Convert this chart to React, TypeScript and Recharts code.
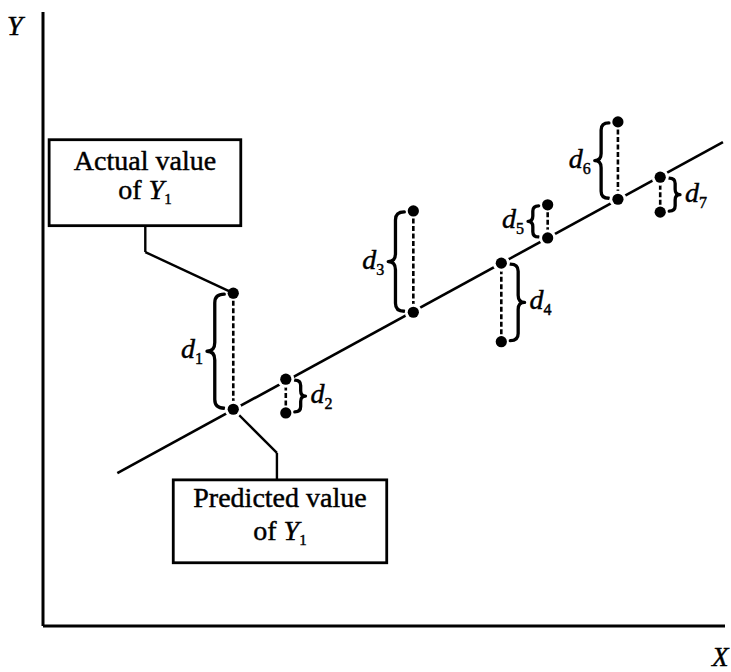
import React from 'react';
import {
  ComposedChart,
  XAxis,
  YAxis,
  Scatter,
  ReferenceLine,
  ReferenceArea,
  ReferenceDot,
} from 'recharts';

// ---- data (arbitrary units, domain 0..100 on both axes) ----
const obsX = [27.9, 35.6, 54.3, 67.2, 74.0, 84.3, 90.5];
const actualY = [54.2, 34.7, 67.6, 46.3, 68.6, 82.1, 67.4];
const predictedY = [35.3, 40.2, 51.1, 59.1, 63.2, 69.5, 73.1];
const residualIndex = ['1', '2', '3', '4', '5', '6', '7'];
const braceSide = ['left', 'right', 'left', 'right', 'left', 'left', 'right'];

const fitLineX = [10.9, 99.7];
const fitLineY = [24.9, 78.8];

const actualBoxX = [0.9, 29.0];
const actualBoxY = [65.2, 79.2];
const predictedBoxX = [19.1, 50.4];
const predictedBoxY = [10.3, 23.8];

const actualConnX = [15.0, 15.0, 27.9];
const actualConnY = [65.2, 60.9, 54.2];
const predictedConnX = [27.9, 34.3, 34.3];
const predictedConnY = [35.3, 28.2, 23.8];

const axisNameX = 'X';
const axisNameY = 'Y';
const actualBoxText = 'Actual value';
const predictedBoxText = 'Predicted value';

const SERIF = '"Liberation Serif", "Times New Roman", Times, serif';

const actualPoints = obsX.map((x, i) => ({ x, y: actualY[i] }));
const predictedPoints = obsX.map((x, i) => ({ x, y: predictedY[i] }));
const fitPoints = fitLineX.map((x, i) => ({ x, y: fitLineY[i] }));

const NoDot = () => <g />;
const PlainDot = (p: any) => <circle cx={p.cx} cy={p.cy} r={5.6} fill="#000" />;
const HaloDot = (p: any) => (
  <g>
    <circle cx={p.cx} cy={p.cy} r={8.5} fill="#fff" />
    <circle cx={p.cx} cy={p.cy} r={5.6} fill="#000" />
  </g>
);

const textInk = { stroke: '#000', strokeWidth: 0.45 };

const makeBrace = (side: string, idx: string) => (p: any) => {
  const { x, y, height } = p;
  const h = Math.abs(height);
  const top = Math.min(y, y + height) + 1;
  const bot = top + h - 2;
  const ym = (top + bot) / 2;
  const w = 8 + h * 0.08;
  const gap = 9;
  const dir = side === 'left' ? -1 : 1;
  const xe = x + dir * gap;
  const xt = xe + dir * w;
  const xm = xe + dir * w * 0.55;
  const r = Math.min(w * 0.5, h / 5);
  const d = `M ${xe} ${top} Q ${xm} ${top} ${xm} ${top + r} L ${xm} ${ym - r} Q ${xm} ${ym} ${xt} ${ym} Q ${xm} ${ym} ${xm} ${ym + r} L ${xm} ${bot - r} Q ${xm} ${bot} ${xe} ${bot}`;
  const lx = side === 'left' ? xt - 4 : xt + 5;
  return (
    <g>
      <path d={d} fill="none" stroke="#000" strokeWidth={3.3} strokeLinecap="round" strokeLinejoin="round" />
      <text
        x={lx}
        y={ym + 7}
        textAnchor={side === 'left' ? 'end' : 'start'}
        fontFamily={SERIF}
        fontSize={28}
        fill="#000"
        {...textInk}
      >
        <tspan fontStyle="italic">d</tspan>
        <tspan fontSize={16} dy={6}>{idx}</tspan>
      </text>
    </g>
  );
};

const makeBox = (line1: string, gap: number) => (p: any) => {
  const { x, y, width, height } = p;
  const cx = x + width / 2;
  const top = Math.min(y, y + height);
  const h = Math.abs(height);
  const mid = top + h / 2;
  return (
    <g>
      <rect x={x} y={top} width={width} height={h} fill="#fff" stroke="#000" strokeWidth={2.8} />
      <text x={cx} y={mid - gap / 2 + 2} textAnchor="middle" fontFamily={SERIF} fontSize={28} fill="#000" {...textInk}>
        {line1}
      </text>
      <text x={cx} y={mid + gap / 2 + 2} textAnchor="middle" fontFamily={SERIF} fontSize={28} fill="#000" {...textInk}>
        <tspan>of </tspan>
        <tspan fontStyle="italic">Y</tspan>
        <tspan fontSize={15} dy={5}>1</tspan>
      </text>
    </g>
  );
};

export default function App() {
  return (
    <div style={{ position: 'absolute', left: 0, top: 0, width: 731, height: 672, background: '#fff' }}>
      <ComposedChart width={731} height={672} margin={{ top: 12, right: 6, bottom: 46, left: 43 }}>
        <XAxis type="number" dataKey="x" domain={[0, 100]} hide />
        <YAxis type="number" dataKey="y" domain={[0, 100]} hide />

        <ReferenceLine x={0} stroke="#000" strokeWidth={3} ifOverflow="visible" />
        <ReferenceLine y={0} stroke="#000" strokeWidth={3} ifOverflow="visible" />

        {obsX.map((x, i) => (
          <ReferenceLine
            key={'dash' + i}
            segment={[
              { x, y: actualY[i] },
              { x, y: predictedY[i] },
            ]}
            stroke="#000"
            strokeWidth={2.6}
            strokeDasharray="5 2.5"
          />
        ))}

        {actualConnX.slice(1).map((_, i) => (
          <ReferenceLine
            key={'ac' + i}
            segment={[
              { x: actualConnX[i], y: actualConnY[i] },
              { x: actualConnX[i + 1], y: actualConnY[i + 1] },
            ]}
            stroke="#000"
            strokeWidth={2.4}
          />
        ))}
        {predictedConnX.slice(1).map((_, i) => (
          <ReferenceLine
            key={'pc' + i}
            segment={[
              { x: predictedConnX[i], y: predictedConnY[i] },
              { x: predictedConnX[i + 1], y: predictedConnY[i + 1] },
            ]}
            stroke="#000"
            strokeWidth={2.4}
          />
        ))}

        <ReferenceArea
          x1={actualBoxX[0]}
          x2={actualBoxX[1]}
          y1={actualBoxY[0]}
          y2={actualBoxY[1]}
          shape={makeBox(actualBoxText, 29)}
        />
        <ReferenceArea
          x1={predictedBoxX[0]}
          x2={predictedBoxX[1]}
          y1={predictedBoxY[0]}
          y2={predictedBoxY[1]}
          shape={makeBox(predictedBoxText, 33)}
        />

        {obsX.map((x, i) => (
          <ReferenceArea
            key={'brace' + i}
            x1={x}
            x2={x}
            y1={Math.min(actualY[i], predictedY[i])}
            y2={Math.max(actualY[i], predictedY[i])}
            shape={makeBrace(braceSide[i], residualIndex[i])}
          />
        ))}

        <Scatter
          data={fitPoints}
          shape={NoDot}
          line={{ stroke: '#000', strokeWidth: 2.6 }}
          isAnimationActive={false}
        />
        <Scatter data={predictedPoints} shape={HaloDot} isAnimationActive={false} />
        <Scatter data={actualPoints} shape={PlainDot} isAnimationActive={false} />

        <ReferenceDot
          x={0}
          y={100}
          r={0}
          ifOverflow="visible"
          shape={(p: any) => (
            <text x={p.cx - 36} y={p.cy + 23} fontFamily={SERIF} fontStyle="italic" fontSize={28} fill="#000" {...textInk}>
              {axisNameY}
            </text>
          )}
        />
        <ReferenceDot
          x={100}
          y={0}
          r={0}
          ifOverflow="visible"
          shape={(p: any) => (
            <text x={p.cx - 13} y={p.cy + 40} fontFamily={SERIF} fontStyle="italic" fontSize={27} fill="#000" {...textInk}>
              {axisNameX}
            </text>
          )}
        />
      </ComposedChart>
    </div>
  );
}
